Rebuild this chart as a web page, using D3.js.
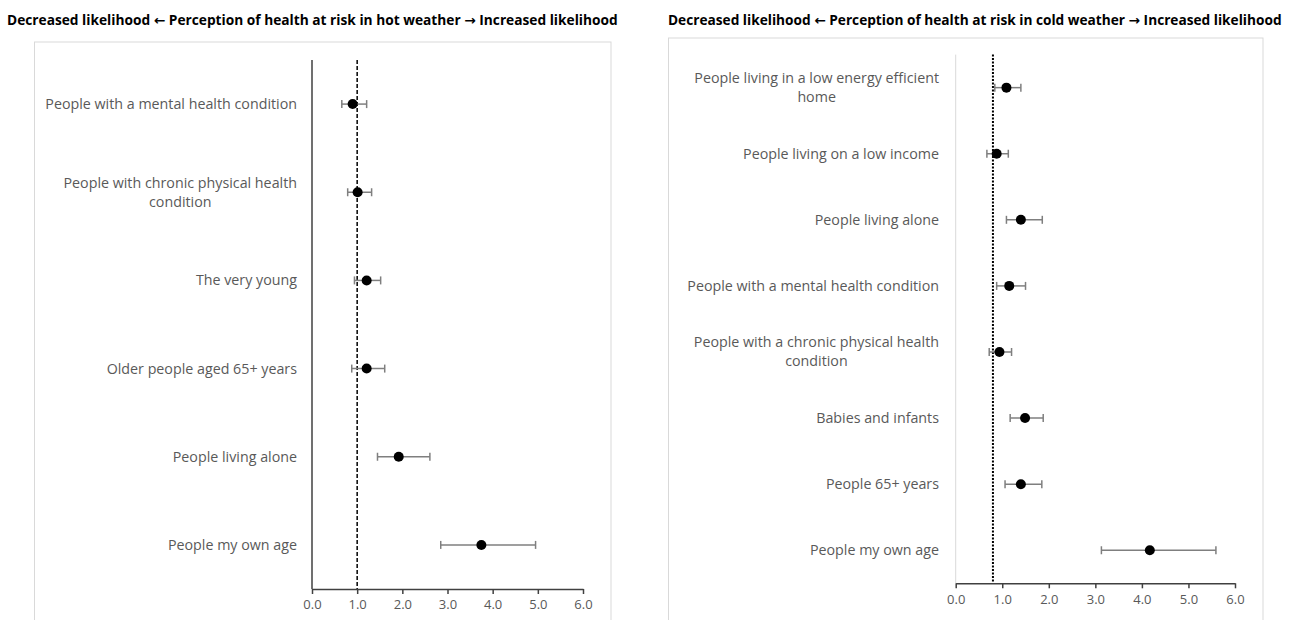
<!DOCTYPE html>
<html>
<head>
<meta charset="utf-8">
<script src="https://cdn.jsdelivr.net/npm/d3@7"></script>
<style>
  html, body { margin: 0; padding: 0; background: #fff; }
  svg { display: block; font-family: "Open Sans", "Liberation Sans", sans-serif; }
</style>
</head>
<body>
<svg id="chart" width="1289" height="620"></svg>
<script>
// Hot weather: odds ratios with 95% confidence intervals
const hotCategories = [
  "People with a mental health condition",
  "People with chronic physical health\ncondition",
  "The very young",
  "Older people aged 65+ years",
  "People living alone",
  "People my own age"
];
const hotOR   = [0.90, 1.01, 1.21, 1.21, 1.92, 3.75];
const hotLow  = [0.66, 0.79, 0.94, 0.88, 1.45, 2.85];
const hotHigh = [1.21, 1.32, 1.52, 1.61, 2.61, 4.95];
const hotRef = 1.0;

// Cold weather: odds ratios with 95% confidence intervals
const coldCategories = [
  "People living in a low energy efficient\nhome",
  "People living on a low income",
  "People living alone",
  "People with a mental health condition",
  "People with a chronic physical health\ncondition",
  "Babies and infants",
  "People 65+ years",
  "People my own age"
];
const coldOR   = [1.09, 0.88, 1.40, 1.15, 0.94, 1.49, 1.40, 4.17];
const coldLow  = [0.84, 0.67, 1.09, 0.88, 0.72, 1.17, 1.06, 3.13];
const coldHigh = [1.40, 1.13, 1.86, 1.50, 1.20, 1.88, 1.85, 5.59];
const coldRef = 0.8;

const xTicks = [0, 1, 2, 3, 4, 5, 6];

const hotTitle  = "Decreased likelihood \u2190 Perception of health at risk in hot weather \u2192 Increased likelihood";
const coldTitle = "Decreased likelihood \u2190 Perception of health at risk in cold weather \u2192 Increased likelihood";

const svg = d3.select("#chart");
const labelColor = "#595959";
const fontFamily = "'Open Sans', 'Liberation Sans', sans-serif";
const arrowFont = "'DejaVu Sans', sans-serif";

// writes a title, giving the arrow characters a font that draws them full size
function writeTitle(sel, title) {
  title.split(/([\u2190\u2192])/).forEach(part => {
    if (!part) return;
    const s = sel.append("tspan").text(part);
    if (part === "\u2190" || part === "\u2192") s.attr("font-family", arrowFont);
  });
}

// font size at which a text element spans the given width
function fitSize(build, width, weight) {
  const t = svg.append("text").attr("font-size", 20).attr("font-weight", weight)
    .attr("font-family", fontFamily);
  build(t);
  const w = t.node().getComputedTextLength();
  t.remove();
  return 20 * width / w;
}

const labelSize = fitSize(t => t.text("People with a mental health condition"), 252, "normal");

function drawPanel(p) {
  const g = svg.append("g");

  // chart frame
  g.append("rect")
    .attr("x", p.frame.x).attr("y", p.frame.y)
    .attr("width", p.frame.w).attr("height", p.frame.h)
    .attr("fill", "#fff").attr("stroke", "#d9d9d9").attr("stroke-width", 1);

  // title above the frame
  const title = g.append("text")
    .attr("x", p.titleX).attr("y", p.titleY)
    .attr("font-size", fitSize(t => writeTitle(t, p.title), p.titleW, "bold"))
    .attr("font-weight", "bold").attr("fill", "#000");
  writeTitle(title, p.title);

  const x = d3.scaleLinear().domain([0, 6]).range([p.x0, p.x1]);
  const y = d3.scaleBand().domain(p.categories).range([p.y0, p.y1]);
  const cy = d => y(d) + y.bandwidth() / 2;

  // vertical axis line
  g.append("line")
    .attr("x1", x(0)).attr("x2", x(0))
    .attr("y1", p.y0).attr("y2", p.y1)
    .attr("stroke", p.yAxisColor).attr("stroke-width", p.yAxisWidth);

  // reference line
  g.append("line")
    .attr("x1", x(p.ref)).attr("x2", x(p.ref))
    .attr("y1", p.y0).attr("y2", p.y1)
    .attr("stroke", "#000").attr("stroke-width", p.refWidth)
    .attr("stroke-dasharray", p.refDash);

  // horizontal axis
  const ax = g.append("g")
    .attr("transform", `translate(0,${p.y1})`)
    .call(d3.axisBottom(x).tickValues(xTicks).tickFormat(d3.format(".1f"))
      .tickSize(5).tickSizeOuter(0).tickPadding(6));
  ax.select(".domain").attr("stroke", "#404040").attr("stroke-width", 1.5);
  ax.selectAll(".tick line").attr("stroke", "#404040").attr("stroke-width", 1.5);
  ax.selectAll(".tick text").attr("fill", labelColor)
    .attr("font-size", 13).attr("font-family", fontFamily);

  // category labels: block right-aligned, lines centred within the block
  p.categories.forEach(c => {
    const lines = c.split("\n");
    const t = g.append("text")
      .attr("font-size", labelSize).attr("fill", labelColor)
      .attr("text-anchor", "middle");
    const spans = lines.map(l => t.append("tspan").text(l));
    const widths = spans.map(s => s.node().getComputedTextLength());
    const maxW = d3.max(widths);
    const cx = p.labelRight - maxW / 2;
    const lh = 19;
    const startY = cy(c) - (lines.length - 1) * lh / 2;
    spans.forEach((s, i) => s.attr("x", cx).attr("y", startY + i * lh).attr("dy", "0.35em"));
  });

  // confidence intervals
  const capH = 4;
  const ci = g.append("g").attr("stroke", "#7f7f7f").attr("stroke-width", 1.5);
  p.categories.forEach((c, i) => {
    ci.append("line").attr("x1", x(p.low[i])).attr("x2", x(p.high[i]))
      .attr("y1", cy(c)).attr("y2", cy(c));
    ci.append("line").attr("x1", x(p.low[i])).attr("x2", x(p.low[i]))
      .attr("y1", cy(c) - capH).attr("y2", cy(c) + capH);
    ci.append("line").attr("x1", x(p.high[i])).attr("x2", x(p.high[i]))
      .attr("y1", cy(c) - capH).attr("y2", cy(c) + capH);
  });

  // point estimates
  g.append("g").selectAll("circle")
    .data(p.categories)
    .join("circle")
    .attr("cx", (c, i) => x(p.or[i]))
    .attr("cy", c => cy(c))
    .attr("r", 5)
    .attr("fill", "#000");
}

drawPanel({
  title: hotTitle, titleX: 7, titleY: 25, titleW: 611,
  frame: { x: 34.5, y: 42, w: 576.5, h: 600 },
  x0: 312, x1: 583, y0: 60, y1: 589,
  categories: hotCategories, or: hotOR, low: hotLow, high: hotHigh,
  ref: hotRef, refDash: "4,2", refWidth: 1.5,
  yAxisColor: "#404040", yAxisWidth: 1.5,
  labelRight: 297
});

drawPanel({
  title: coldTitle, titleX: 668, titleY: 25, titleW: 614,
  frame: { x: 668.5, y: 38, w: 594.5, h: 600 },
  x0: 955.7, x1: 1235, y0: 54.6, y1: 583.3,
  categories: coldCategories, or: coldOR, low: coldLow, high: coldHigh,
  ref: coldRef, refDash: "2,1.5", refWidth: 2,
  yAxisColor: "#d9d9d9", yAxisWidth: 1,
  labelRight: 939
});
</script>
</body>
</html>
